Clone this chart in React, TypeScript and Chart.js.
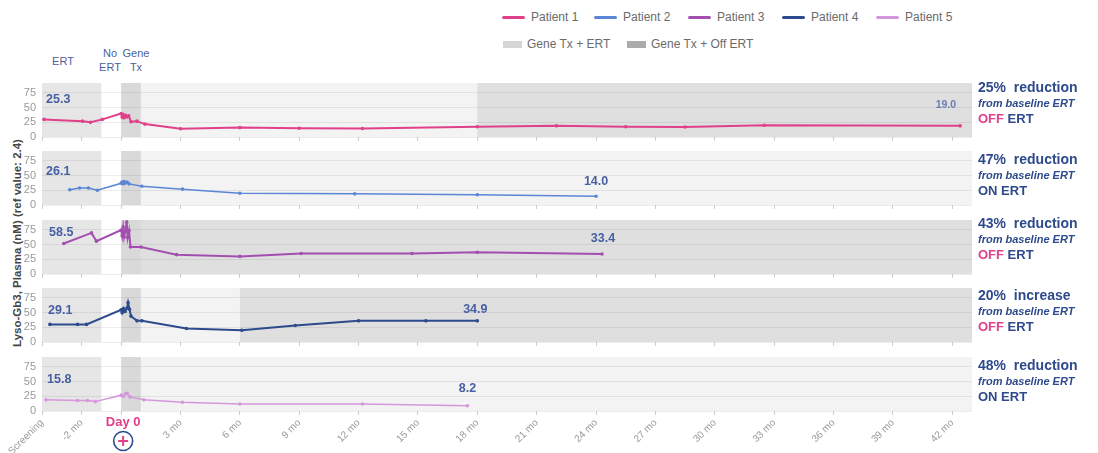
import React, { useEffect, useRef } from 'react';
import { Chart, registerables } from 'chart.js';
Chart.register(...registerables);

const FONT = '"Liberation Sans", Arial, Helvetica, sans-serif';

// ---- axis ticks ----
const monthTicks = [-4, -2, 0, 3, 6, 9, 12, 15, 18, 21, 24, 27, 30, 33, 36, 39, 42];
const monthTickLabels = ['Screening', '-2 mo', '', '3 mo', '6 mo', '9 mo', '12 mo', '15 mo', '18 mo', '21 mo', '24 mo', '27 mo', '30 mo', '33 mo', '36 mo', '39 mo', '42 mo'];
const yTicks = [0, 25, 50, 75];

// ---- phases (months) ----
const ertPhase = [-4, -1];
const geneTxPhase = [0, 1];
const offErtStart = [18, null, 1, 6, null];

// ---- series ----
const p1Months = [-3.9, -1.95, -1.55, -0.95, 0.0, 0.05, 0.1, 0.15, 0.22, 0.3, 0.38, 0.5, 0.8, 1.2, 3.0, 6.0, 9.0, 12.2, 18.0, 22.0, 25.5, 28.5, 32.5, 42.4];
const p1Values = [30, 27, 25, 30, 40, 34, 38, 33, 37, 34, 36, 26, 27, 22, 14, 16, 15, 14.5, 17.5, 19, 17.5, 17, 20, 19];

const p2Months = [-2.6, -2.1, -1.65, -1.2, 0.0, 0.05, 0.1, 0.15, 0.2, 0.3, 0.4, 1.05, 3.1, 6.0, 11.8, 18.0, 24.0];
const p2Values = [26, 29, 29, 25, 37, 39, 36, 40, 37, 39, 36, 32, 27, 20, 19, 17.5, 15];

const p3Months = [-2.9, -1.5, -1.25, 0.0, 0.05, 0.1, 0.15, 0.2, 0.28, 0.33, 0.4, 0.47, 1.0, 2.8, 6.0, 9.1, 14.7, 18.0, 24.3];
const p3Values = [52, 70, 56, 75, 65, 80, 63, 72, 88, 62, 74, 46, 46, 33, 30, 35, 35, 37, 34];

const p4Months = [-3.6, -2.2, -1.75, 0.0, 0.05, 0.12, 0.2, 0.3, 0.35, 0.42, 0.5, 0.8, 1.05, 3.3, 6.1, 8.8, 12.0, 15.4, 18.0];
const p4Values = [30, 30, 30, 55, 50, 57, 52, 58, 67, 56, 44, 36, 36, 23, 20, 28, 36, 36, 36];

const p5Months = [-3.8, -2.2, -1.7, -1.3, 0.0, 0.1, 0.2, 0.3, 0.45, 1.15, 3.1, 6.0, 12.2, 17.5];
const p5Values = [19, 18, 18, 16, 27, 25, 29, 30, 24, 19, 15, 12, 12, 9];

const patientNames = ['Patient 1', 'Patient 2', 'Patient 3', 'Patient 4', 'Patient 5'];
const patientColors = ['#e0408a', '#5b86d6', '#a34fb0', '#2d4a8c', '#d597dc'];
const lineWidths = [2, 1.5, 2, 2, 1.5];
const baselineLabels = ['25.3', '26.1', '58.5', '29.1', '15.8'];
const finalLabels = ['19.0', '14.0', '33.4', '34.9', '8.2'];
const changeTexts = ['25%  reduction', '47%  reduction', '43%  reduction', '20%  increase', '48%  reduction'];
const ertStatus = ['OFF', 'ON', 'OFF', 'OFF', 'ON'];

// ---- layout ----
const panelTops = [79, 147, 216, 284, 353];
const PANEL_H = 58;
const CANVAS_W = 992;
const startLabelOffsets = [[4, 17], [4, 21], [7, 13], [6, 23], [5, 23]];
const endLabelOffsets = [[-4, 21], [0, 15], [1, 15], [-2, 11], [0, 17]];
const annTops = [88, 160, 224, 296, 366];

const COLORS = {
  ert: '#e6e6e6',
  geneTx: '#d9d9d9',
  light: '#f3f3f3',
  off: '#dfdfdf',
  label: '#4760a3',
  navy: '#2e4a8c',
  pink: '#e0408a',
};

const shadePlugin = {
  id: 'shade',
  beforeDraw(chart: any, _a: any, opts: any) {
    const { ctx, chartArea: a, scales } = chart;
    const x = scales.x;
    ctx.save();
    for (const b of opts.bands) {
      const l = x.getPixelForValue(b.from);
      const r = x.getPixelForValue(b.to);
      ctx.fillStyle = b.color;
      ctx.fillRect(l, a.top, r - l, a.bottom - a.top);
    }
    ctx.restore();
  },
};

const labelPlugin = {
  id: 'valueLabels',
  afterDatasetsDraw(chart: any, _a: any, opts: any) {
    const { ctx, chartArea: a } = chart;
    const meta = chart.getDatasetMeta(0);
    const last = meta.data[meta.data.length - 1];
    ctx.save();
    ctx.textBaseline = 'middle';
    ctx.fillStyle = COLORS.label;
    ctx.font = `bold 12.5px ${FONT}`;
    ctx.textAlign = 'left';
    ctx.fillText(opts.start, a.left + opts.startOff[0], a.top + opts.startOff[1]);
    if (opts.small) {
      ctx.font = `bold 10.5px ${FONT}`;
      ctx.fillStyle = '#6a7db3';
      ctx.textAlign = 'right';
    } else {
      ctx.font = `bold 12.5px ${FONT}`;
      ctx.textAlign = 'center';
    }
    ctx.fillText(opts.end, last.x + opts.endOff[0], last.y - opts.endOff[1]);
    ctx.restore();
  },
};

const dayZeroPlugin = {
  id: 'dayZero',
  afterDraw(chart: any, _a: any, opts: any) {
    if (!opts.show) return;
    const { ctx, chartArea: a, scales } = chart;
    const cx = scales.x.getPixelForValue(0) + 2;
    ctx.save();
    ctx.fillStyle = COLORS.pink;
    ctx.font = `bold 13px ${FONT}`;
    ctx.textAlign = 'center';
    ctx.textBaseline = 'middle';
    ctx.fillText('Day 0', cx, a.bottom + 11);
    const cy = a.bottom + 30;
    ctx.beginPath();
    ctx.arc(cx, cy, 9.5, 0, Math.PI * 2);
    ctx.lineWidth = 1.6;
    ctx.strokeStyle = COLORS.navy;
    ctx.stroke();
    ctx.beginPath();
    ctx.moveTo(cx - 5, cy);
    ctx.lineTo(cx + 5, cy);
    ctx.moveTo(cx, cy - 5);
    ctx.lineTo(cx, cy + 5);
    ctx.lineWidth = 2;
    ctx.strokeStyle = COLORS.pink;
    ctx.stroke();
    ctx.restore();
  },
};

const seriesMonths = [p1Months, p2Months, p3Months, p4Months, p5Months];
const seriesValues = [p1Values, p2Values, p3Values, p4Values, p5Values];

function bandsFor(i: number) {
  const off = offErtStart[i];
  const bands: any[] = [
    { from: ertPhase[0], to: ertPhase[1], color: COLORS.ert },
    { from: geneTxPhase[0], to: geneTxPhase[1], color: COLORS.geneTx },
  ];
  if (off === null) {
    bands.push({ from: geneTxPhase[1], to: 43, color: COLORS.light });
  } else {
    if (off > geneTxPhase[1]) bands.push({ from: geneTxPhase[1], to: off, color: COLORS.light });
    bands.push({ from: off, to: 43, color: COLORS.off });
  }
  return bands;
}

function Panel({ i }: { i: number }) {
  const ref = useRef<HTMLCanvasElement>(null);
  const bottom = i === 4;
  const xAxisH = bottom ? 42 : 6;
  useEffect(() => {
    const months = seriesMonths[i];
    const values = seriesValues[i];
    const chart = new Chart(ref.current as HTMLCanvasElement, {
      type: 'line',
      data: {
        datasets: [
          {
            label: patientNames[i],
            data: months.map((m, k) => ({ x: m, y: values[k] })),
            borderColor: patientColors[i],
            backgroundColor: patientColors[i],
            borderWidth: lineWidths[i],
            pointRadius: 1.8,
            pointBorderWidth: 0,
            tension: 0,
          },
        ],
      },
      options: {
        responsive: false,
        animation: false,
        events: [],
        layout: { padding: { left: 0, right: 20, top: 0, bottom: 0 } },
        plugins: {
          legend: { display: false },
          tooltip: { enabled: false },
          shade: { bands: bandsFor(i) },
          valueLabels: {
            start: baselineLabels[i],
            end: finalLabels[i],
            startOff: startLabelOffsets[i],
            endOff: endLabelOffsets[i],
            small: i === 0,
          },
          dayZero: { show: bottom },
        } as any,
        scales: {
          x: {
            type: 'linear',
            min: -4,
            max: 43,
            border: { display: false },
            grid: { drawOnChartArea: false, drawTicks: true, tickLength: 4, color: '#cfcfcf' },
            ticks: {
              display: bottom,
              autoSkip: false,
              minRotation: 45,
              maxRotation: 45,
              padding: 2,
              color: '#9a9a9a',
              font: { family: FONT, size: 10 },
              callback: (v: any) => {
                const idx = monthTicks.indexOf(Number(v));
                return idx >= 0 ? monthTickLabels[idx] : '';
              },
            },
            afterBuildTicks: (s: any) => {
              s.ticks = monthTicks.map((v) => ({ value: v }));
            },
            afterFit: (s: any) => {
              s.height = xAxisH;
              s.paddingLeft = 0;
              s.paddingRight = 0;
            },
          },
          y: {
            min: 0,
            max: 92,
            border: { display: false },
            grid: { color: 'rgba(0,0,0,0.07)', drawTicks: false },
            ticks: { autoSkip: false, padding: 6, color: '#9a9a9a', font: { family: FONT, size: 11 } },
            afterBuildTicks: (s: any) => {
              s.ticks = yTicks.map((v) => ({ value: v }));
            },
            afterFit: (s: any) => {
              s.width = 42;
              s.paddingTop = 0;
              s.paddingBottom = 0;
            },
          },
        } as any,
      },
      plugins: [shadePlugin, labelPlugin, dayZeroPlugin] as any,
    });
    return () => chart.destroy();
  }, []);
  return (
    <canvas
      ref={ref}
      width={CANVAS_W}
      height={PANEL_H + xAxisH}
      style={{ position: 'absolute', left: 0, top: panelTops[i], display: 'block' }}
    />
  );
}

const abs = (left: number, top: number, extra: any = {}) => ({ position: 'absolute' as const, left, top, ...extra });

export default function App() {
  const legendLeft = [502, 594, 688, 782, 876];
  return (
    <div style={{ position: 'absolute', left: 0, top: 0, width: 1098, height: 453, background: '#fff', fontFamily: FONT, overflow: 'hidden' }}>
      {/* legend row 1 */}
      {patientNames.map((n, k) => (
        <div key={n} style={abs(legendLeft[k], 10, { display: 'flex', alignItems: 'center', height: 14 })}>
          <div style={{ width: 23, height: 3, background: patientColors[k], borderRadius: 2 }} />
          <span style={{ marginLeft: 6, fontSize: 12, color: '#6b6b6b' }}>{n}</span>
        </div>
      ))}
      {/* legend row 2 */}
      <div style={abs(503, 37, { display: 'flex', alignItems: 'center', height: 14 })}>
        <div style={{ width: 19, height: 7, background: '#d5d5d5' }} />
        <span style={{ marginLeft: 5, fontSize: 12, color: '#6b6b6b' }}>Gene Tx + ERT</span>
      </div>
      <div style={abs(627, 37, { display: 'flex', alignItems: 'center', height: 14 })}>
        <div style={{ width: 19, height: 7, background: '#ababab' }} />
        <span style={{ marginLeft: 5, fontSize: 12, color: '#6b6b6b' }}>Gene Tx + Off ERT</span>
      </div>

      {/* phase labels */}
      <div style={abs(43, 55, { width: 40, textAlign: 'center', fontSize: 11, color: '#4d5f9e' })}>ERT</div>
      <div style={abs(95, 46, { width: 30, textAlign: 'center', fontSize: 11, color: '#4d5f9e', lineHeight: '14px' })}>No<br />ERT</div>
      <div style={abs(121, 46, { width: 30, textAlign: 'center', fontSize: 11, color: '#4d5f9e', lineHeight: '14px' })}>Gene<br />Tx</div>

      {/* y-axis title */}
      <div style={abs(17 - 130, 243 - 7, { width: 260, height: 14, lineHeight: '14px', textAlign: 'center', transform: 'rotate(-90deg)', fontSize: 11.5, fontWeight: 'bold', color: '#454545', whiteSpace: 'nowrap' })}>
        Lyso-Gb3, Plasma (nM) (ref value: 2.4)
      </div>

      {[0, 1, 2, 3, 4].map((i) => (
        <Panel key={i} i={i} />
      ))}

      {/* right annotations */}
      {changeTexts.map((t, k) => (
        <div key={k} style={abs(978, annTops[k] - 9, { color: COLORS.navy, whiteSpace: 'pre' })}>
          <div style={{ fontSize: 14, fontWeight: 'bold', lineHeight: '17px' }}>{t}</div>
          <div style={{ fontSize: 11, fontWeight: 'bold', fontStyle: 'italic', lineHeight: '15px' }}>from baseline ERT</div>
          <div style={{ fontSize: 13, fontWeight: 'bold', lineHeight: '16px' }}>
            <span style={{ color: ertStatus[k] === 'OFF' ? COLORS.pink : COLORS.navy }}>{ertStatus[k]}</span> ERT
          </div>
        </div>
      ))}
    </div>
  );
}
